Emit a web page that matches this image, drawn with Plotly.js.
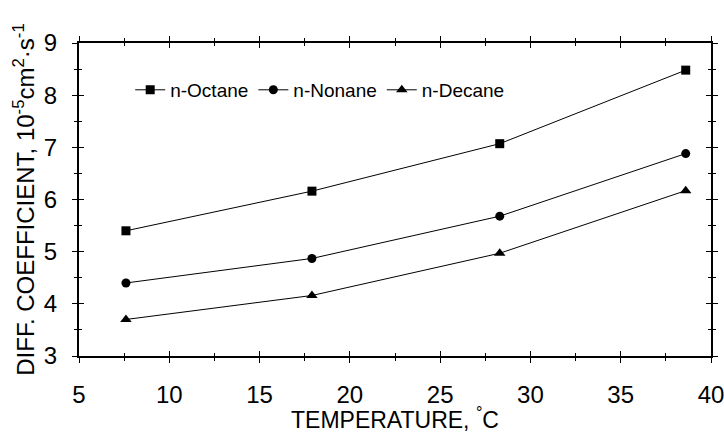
<!DOCTYPE html>
<html><head><meta charset="utf-8">
<script src="https://cdn.plot.ly/plotly-3.0.1.min.js"></script>
<style>html,body{margin:0;padding:0;background:#fff}</style>
</head><body><div id="chart" style="width:724px;height:433px"></div>
<script>
const temperature = [7.6, 17.9, 28.3, 38.6];
const octane = [5.4, 6.16, 7.07, 8.48];
const nonane = [4.4, 4.87, 5.68, 6.88];
const decane = [3.7, 4.16, 4.97, 6.17];
const seriesNames = ['n-Octane', 'n-Nonane', 'n-Decane'];
const xTicks = [5, 10, 15, 20, 25, 30, 35, 40];
const yTicks = [3, 4, 5, 6, 7, 8, 9];

const font = 'Arial, "Liberation Sans", sans-serif';
function tr(y, name, sym, size) {
  return {x: temperature, y: y, name: name, type: 'scatter', mode: 'lines+markers',
    line: {color: '#000', width: 1}, marker: {symbol: sym, size: size, color: '#000'}};
}
const data = [
  tr(octane, seriesNames[0], 'square', 9),
  tr(nonane, seriesNames[1], 'circle', 9),
  tr(decane, seriesNames[2], 'triangle-up', 10),
  {x: [5], y: [3], xaxis: 'x2', yaxis: 'y2', mode: 'markers', marker: {opacity: 0}, showlegend: false, hoverinfo: 'skip'}
];
const baseX = {range: [5, 40], tickvals: xTicks, showgrid: false, zeroline: false, automargin: false,
  linecolor: '#000', linewidth: 2, tickcolor: '#000', ticklen: 5, tickwidth: 1};
const baseY = {range: [3, 9], tickvals: yTicks, showgrid: false, zeroline: false, automargin: false,
  linecolor: '#000', linewidth: 2, tickcolor: '#000', ticklen: 5, tickwidth: 1};
const layout = {
  width: 724, height: 433,
  margin: {l: 79, r: 13, t: 43, b: 77},
  paper_bgcolor: '#fff', plot_bgcolor: '#fff',
  font: {family: font, color: '#000'},
  showlegend: true,
  legend: {orientation: 'h', x: 0.081, y: 0.85, xanchor: 'left', yanchor: 'middle',
    font: {size: 19, family: font}, bgcolor: 'rgba(0,0,0,0)', tracegroupgap: 0},
  xaxis: Object.assign({}, baseX, {ticks: 'outside', mirror: 'allticks', showline: true,
    tickfont: {size: 24, family: font}, ticklabelstandoff: 11, ticklabeloverflow: 'allow',
    minor: {dtick: 2.5, tick0: 5, ticks: 'outside', ticklen: 3, tickcolor: '#000'},
    title: {text: 'TEMPERATURE, <sup>°</sup>C', font: {size: 23, family: font}, standoff: 8}}),
  yaxis: Object.assign({}, baseY, {ticks: 'outside', mirror: 'allticks', showline: true,
    tickfont: {size: 24, family: font}, ticklabelstandoff: 10, ticklabeloverflow: 'allow',
    minor: {dtick: 0.5, tick0: 3, ticks: 'outside', ticklen: 3, tickcolor: '#000'},
    title: {text: 'DIFF. COEFFICIENT, 10<sup>-5</sup>cm<sup>2</sup>·s<sup>-1</sup>', font: {size: 24, family: font}, standoff: 2}}),
  xaxis2: Object.assign({}, baseX, {overlaying: 'x', anchor: 'y2', ticks: 'inside', mirror: 'allticks',
    showline: false, showticklabels: false,
    minor: {dtick: 2.5, tick0: 5, ticks: 'inside', ticklen: 3, tickcolor: '#000'}}),
  yaxis2: Object.assign({}, baseY, {overlaying: 'y', anchor: 'x2', ticks: 'inside', mirror: 'allticks',
    showline: false, showticklabels: false,
    minor: {dtick: 0.5, tick0: 3, ticks: 'inside', ticklen: 3, tickcolor: '#000'}})
};
Plotly.newPlot('chart', data, layout, {displayModeBar: false, staticPlot: true});
</script></body></html>
